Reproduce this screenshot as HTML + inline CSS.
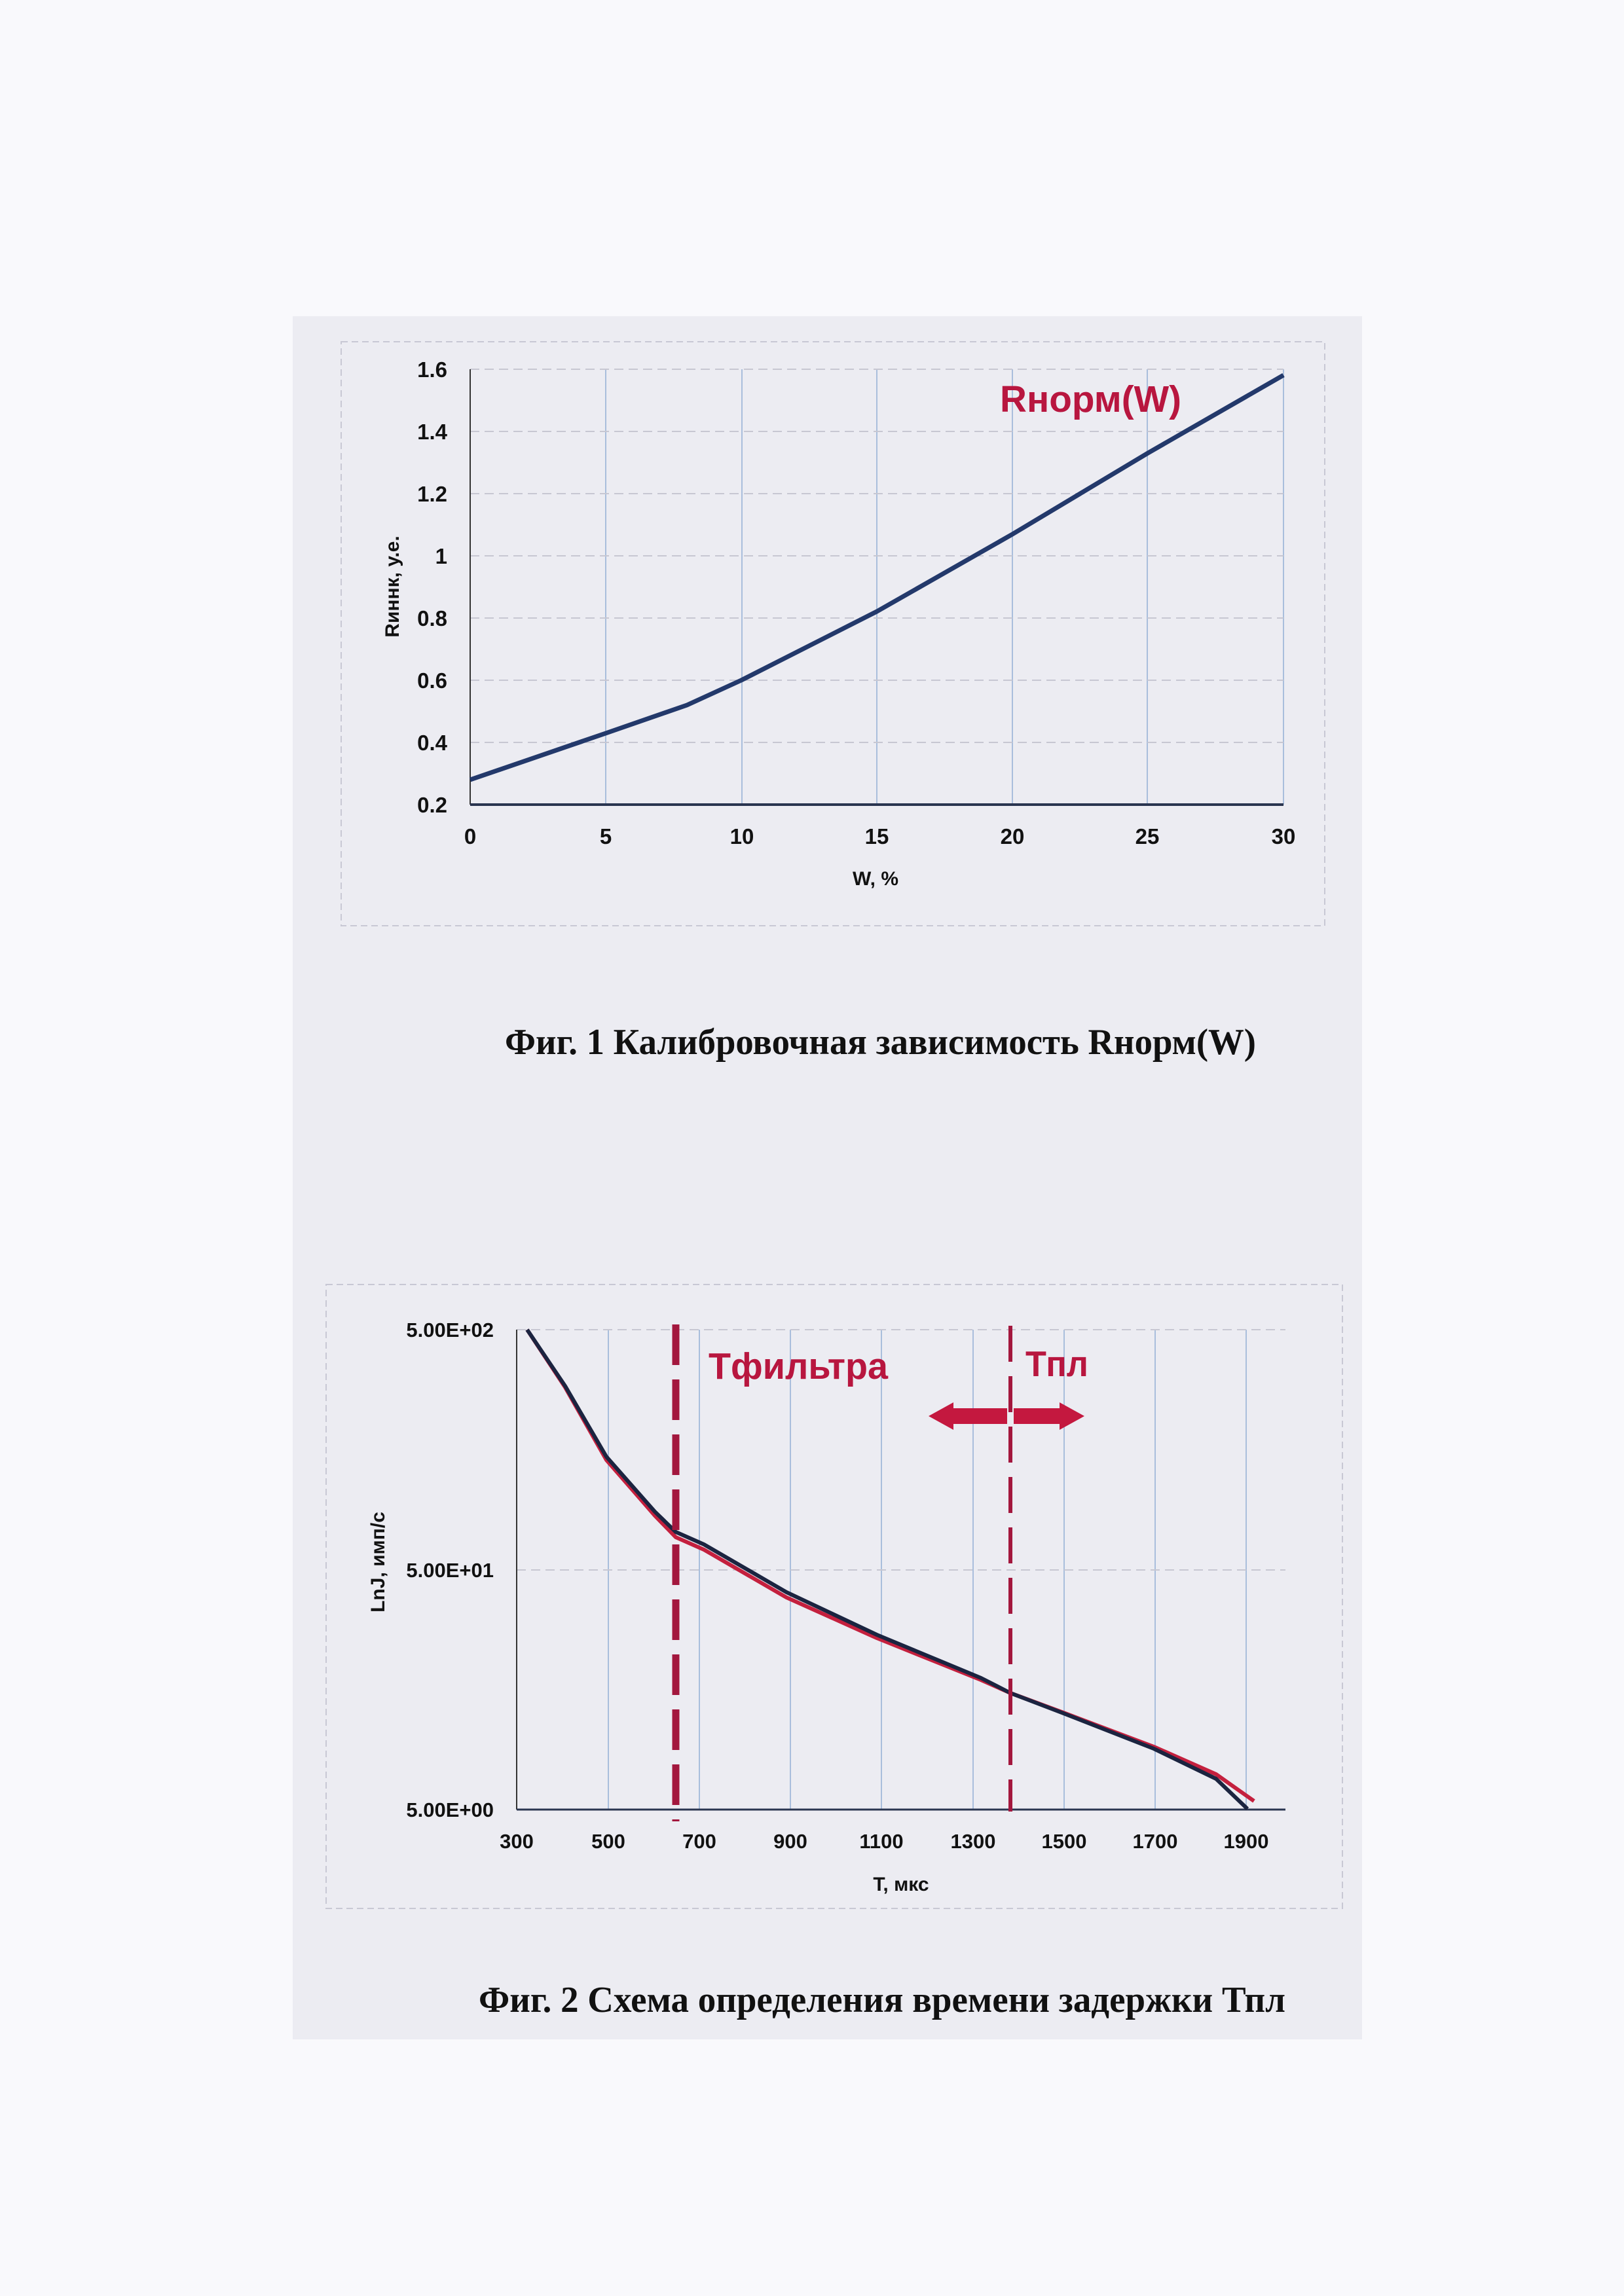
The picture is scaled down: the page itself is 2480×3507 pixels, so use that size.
<!DOCTYPE html>
<html><head><meta charset="utf-8"><style>
html,body{margin:0;padding:0;background:#f9f9fc;}
svg{display:block;}
text{font-family:"Liberation Sans",sans-serif;font-weight:bold;fill:#111;}
.serif{font-family:"Liberation Serif","Noto Serif CJK SC",serif;}
</style></head><body>
<svg width="2480" height="3507" viewBox="0 0 2480 3507" xmlns="http://www.w3.org/2000/svg">
<rect x="447" y="483" width="1633" height="2632" fill="#ececf2"/>
<!-- Chart 1 -->
<rect x="521" y="522" width="1502" height="892" fill="none" stroke="#c8c8d4" stroke-width="2" stroke-dasharray="10 6"/>
<g stroke="#a9bedc" stroke-width="2">
<line x1="925" y1="564" x2="925" y2="1229"/><line x1="1133" y1="564" x2="1133" y2="1229"/>
<line x1="1339" y1="564" x2="1339" y2="1229"/><line x1="1546" y1="564" x2="1546" y2="1229"/>
<line x1="1752" y1="564" x2="1752" y2="1229"/><line x1="1960" y1="564" x2="1960" y2="1229"/>
</g>
<g stroke="#c7c7d2" stroke-width="2" stroke-dasharray="14 8">
<line x1="718" y1="564" x2="1960" y2="564"/><line x1="718" y1="659" x2="1960" y2="659"/>
<line x1="718" y1="754" x2="1960" y2="754"/><line x1="718" y1="849" x2="1960" y2="849"/>
<line x1="718" y1="944" x2="1960" y2="944"/><line x1="718" y1="1039" x2="1960" y2="1039"/>
<line x1="718" y1="1134" x2="1960" y2="1134"/>
</g>
<line x1="718" y1="564" x2="718" y2="1229" stroke="#333" stroke-width="2"/>
<line x1="718" y1="1229" x2="1960" y2="1229" stroke="#2a3550" stroke-width="4"/>
<polyline fill="none" stroke="#23396b" stroke-width="7" stroke-linejoin="round" points="718,1191 925,1120 1049,1077 1132,1039 1339,934 1546,816 1753,692 1960,573"/>
<g font-size="33" text-anchor="end">
<text x="683" y="576">1.6</text><text x="683" y="671">1.4</text><text x="683" y="766">1.2</text>
<text x="683" y="861">1</text><text x="683" y="956">0.8</text><text x="683" y="1051">0.6</text>
<text x="683" y="1146">0.4</text><text x="683" y="1241">0.2</text>
</g>
<g font-size="33" text-anchor="middle">
<text x="718" y="1289">0</text><text x="925" y="1289">5</text><text x="1133" y="1289">10</text>
<text x="1339" y="1289">15</text><text x="1546" y="1289">20</text><text x="1752" y="1289">25</text>
<text x="1960" y="1289">30</text>
<text x="1337" y="1352" font-size="30">W, %</text>
<text transform="translate(609,896) rotate(-90)" font-size="30">Rиннк, у.е.</text>
</g>
<text x="1527" y="629" font-size="57" style="fill:#b8163f" textLength="277" lengthAdjust="spacingAndGlyphs">Rнорм(W)</text>
<text class="serif" x="771" y="1610" font-size="56" textLength="1147" lengthAdjust="spacingAndGlyphs">Фиг. 1 Калибровочная зависимость Rнорм(W)</text>

<!-- Chart 2 -->
<rect x="498" y="1962" width="1552" height="953" fill="none" stroke="#c8c8d4" stroke-width="2" stroke-dasharray="10 6"/>
<g stroke="#a9bedc" stroke-width="2">
<line x1="929" y1="2031" x2="929" y2="2764"/><line x1="1068" y1="2031" x2="1068" y2="2764"/>
<line x1="1207" y1="2031" x2="1207" y2="2764"/><line x1="1346" y1="2031" x2="1346" y2="2764"/>
<line x1="1486" y1="2031" x2="1486" y2="2764"/><line x1="1625" y1="2031" x2="1625" y2="2764"/>
<line x1="1764" y1="2031" x2="1764" y2="2764"/><line x1="1903" y1="2031" x2="1903" y2="2764"/>
</g>
<g stroke="#c7c7d2" stroke-width="2" stroke-dasharray="14 8">
<line x1="789" y1="2031" x2="1963" y2="2031"/><line x1="789" y1="2398" x2="1963" y2="2398"/>
</g>
<line x1="789" y1="2031" x2="789" y2="2764" stroke="#333" stroke-width="2"/>
<line x1="789" y1="2764" x2="1963" y2="2764" stroke="#2a3550" stroke-width="3"/>
<polyline fill="none" stroke="#c4203e" stroke-width="6" stroke-linejoin="round" points="805,2031 863,2119 926,2230 1000,2315 1032,2348 1075,2367 1201,2440 1339,2502 1498,2566 1543,2586 1624,2616 1762,2668 1857,2710 1915,2751"/>
<polyline fill="none" stroke="#1b2440" stroke-width="6" stroke-linejoin="round" points="805,2031 863,2117 926,2225 1000,2309 1032,2340 1075,2359 1201,2432 1339,2497 1498,2563 1543,2586 1624,2617 1762,2671 1857,2717 1905,2763"/>
<line x1="1032" y1="2023" x2="1032" y2="2782" stroke="#a3173e" stroke-width="11" stroke-dasharray="62 22"/>
<line x1="1543" y1="2025" x2="1543" y2="2767" stroke="#a3173e" stroke-width="6" stroke-dasharray="55 22"/>
<text x="1082" y="2106" font-size="57" style="fill:#b8163f" textLength="274" lengthAdjust="spacingAndGlyphs">Тфильтра</text>
<text x="1566" y="2102" font-size="55" style="fill:#b8163f" textLength="96" lengthAdjust="spacingAndGlyphs">Тпл</text>
<path d="M1418,2163 L1456,2142 L1456,2151 L1538,2151 L1538,2175 L1456,2175 L1456,2184 Z" fill="#c4183f"/>
<path d="M1656,2163 L1618,2142 L1618,2151 L1548,2151 L1548,2175 L1618,2175 L1618,2184 Z" fill="#c4183f"/>
<g font-size="31" text-anchor="end">
<text x="754" y="2042">5.00E+02</text><text x="754" y="2409">5.00E+01</text><text x="754" y="2775">5.00E+00</text>
</g>
<g font-size="31" text-anchor="middle">
<text x="789" y="2823">300</text><text x="929" y="2823">500</text><text x="1068" y="2823">700</text>
<text x="1207" y="2823">900</text><text x="1346" y="2823">1100</text><text x="1486" y="2823">1300</text>
<text x="1625" y="2823">1500</text><text x="1764" y="2823">1700</text><text x="1903" y="2823">1900</text>
<text x="1376" y="2888" font-size="30">T, мкс</text>
<text transform="translate(587,2386) rotate(-90)" font-size="30">LnJ, имп/с</text>
</g>
<text class="serif" x="731" y="3073" font-size="56" textLength="1232" lengthAdjust="spacingAndGlyphs">Фиг. 2 Схема определения времени задержки Тпл</text>
</svg>
</body></html>
